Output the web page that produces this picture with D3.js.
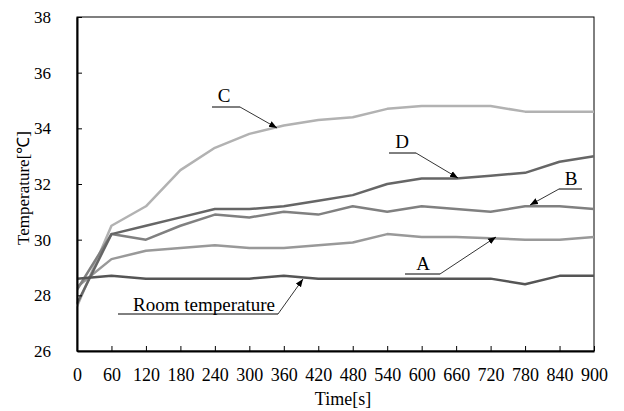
<!DOCTYPE html>
<html lang="en">
<head>
<meta charset="utf-8">
<title>Temperature vs time</title>
<script src="https://d3js.org/d3.v7.js"></script>
<style>
  body { margin: 0; background: #fff; }
  text { font-family: "Liberation Serif", "Times New Roman", serif; }
</style>
</head>
<body>
<script>
var w = 624;
var h = 411;

// data
var times = [0, 60, 120, 180, 240, 300, 360, 420, 480, 540, 600, 660, 720, 780, 840, 900];
var roomTemp = [28.6, 28.7, 28.6, 28.6, 28.6, 28.6, 28.7, 28.6, 28.6, 28.6, 28.6, 28.6, 28.6, 28.4, 28.7, 28.7];
var seriesA = [28.3, 29.3, 29.6, 29.7, 29.8, 29.7, 29.7, 29.8, 29.9, 30.2, 30.1, 30.1, 30.05, 30.0, 30.0, 30.1];
var seriesB = [28.2, 30.2, 30.0, 30.5, 30.9, 30.8, 31.0, 30.9, 31.2, 31.0, 31.2, 31.1, 31.0, 31.2, 31.2, 31.1];
var seriesC = [27.6, 30.5, 31.2, 32.5, 33.3, 33.8, 34.1, 34.3, 34.4, 34.7, 34.8, 34.8, 34.8, 34.6, 34.6, 34.6];
var seriesD = [27.7, 30.2, 30.5, 30.8, 31.1, 31.1, 31.2, 31.4, 31.6, 32.0, 32.2, 32.2, 32.3, 32.4, 32.8, 33.0];
var yTicks = [26, 28, 30, 32, 34, 36, 38];

var series = [
  {name: "C", values: seriesC, color: "#b2b2b2"},
  {name: "A", values: seriesA, color: "#999999"},
  {name: "B", values: seriesB, color: "#808080"},
  {name: "D", values: seriesD, color: "#666666"},
  {name: "Room temperature", values: roomTemp, color: "#555555"}
];

var plotLeft = 77, plotRight = 594, plotTop = 17, plotBottom = 351;

var xScale = d3.scaleLinear().domain([0, 900]).range([plotLeft, plotRight]);
var yScale = d3.scaleLinear().domain([26, 38]).range([plotBottom, plotTop]);

var svg = d3.select("body").append("svg")
  .attr("width", w)
  .attr("height", h);

// thin frame
svg.append("rect")
  .attr("x", plotLeft).attr("y", plotTop)
  .attr("width", plotRight - plotLeft).attr("height", plotBottom - plotTop)
  .attr("fill", "none").attr("stroke", "#000").attr("stroke-width", 1);

var line = d3.line()
  .x(function(d, i) { return xScale(times[i]); })
  .y(function(d) { return yScale(d); });

svg.selectAll("path.series")
  .data(series)
  .enter()
  .append("path")
  .attr("class", "series")
  .attr("d", function(d) { return line(d.values); })
  .attr("fill", "none")
  .attr("stroke", function(d) { return d.color; })
  .attr("stroke-width", 2.5)
  .attr("stroke-linejoin", "round");

// axes
var xAxis = d3.axisBottom(xScale)
  .tickValues(times)
  .tickSizeInner(-5)
  .tickSizeOuter(0)
  .tickPadding(17)
  .tickFormat(d3.format("d"));

var yAxis = d3.axisLeft(yScale)
  .tickValues(yTicks)
  .tickSizeInner(-5)
  .tickSizeOuter(0)
  .tickPadding(26)
  .tickFormat(d3.format("d"));

var gx = svg.append("g")
  .attr("transform", "translate(0," + plotBottom + ")")
  .call(xAxis);

var gy = svg.append("g")
  .attr("transform", "translate(" + plotLeft + ",0)")
  .call(yAxis);

[gx, gy].forEach(function(g) {
  g.select(".domain").attr("stroke-width", 2);
  g.selectAll(".tick line").attr("stroke-width", 1);
  g.selectAll("text").attr("fill", "#000")
    .style("font-family", "'Liberation Serif', serif");
});
gx.selectAll("text").attr("font-size", 18);
gy.selectAll("text").attr("font-size", 17);

// axis titles
svg.append("text")
  .attr("x", 343)
  .attr("y", 405)
  .attr("text-anchor", "middle")
  .attr("font-size", 18)
  .text("Time[s]");

svg.append("text")
  .attr("transform", "translate(29,188) rotate(-90)")
  .attr("text-anchor", "middle")
  .attr("font-size", 17)
  .text("Temperature[\u2103]");

// arrow heads
svg.append("defs").append("marker")
  .attr("id", "arrow")
  .attr("viewBox", "0 0 10 10")
  .attr("refX", 10).attr("refY", 5)
  .attr("markerWidth", 8).attr("markerHeight", 8)
  .attr("markerUnits", "userSpaceOnUse")
  .attr("orient", "auto")
  .append("path")
  .attr("d", "M0,1 L10,5 L0,9 Z")
  .attr("fill", "#000");

// callouts: label, underline start/end, arrow tip (pixel layout)
var callouts = [
  {text: "C", tx: 224, ty: 102, u0: 212, u1: 240, uy: 107, tipX: 277, tipY: 128},
  {text: "D", tx: 402, ty: 148, u0: 389, u1: 416, uy: 153, tipX: 458, tipY: 178},
  {text: "B", tx: 571, ty: 185, u0: 582, u1: 559, uy: 189, tipX: 530, tipY: 205},
  {text: "A", tx: 423, ty: 270, u0: 405, u1: 440, uy: 274, tipX: 496, tipY: 237},
  {text: "Room temperature", tx: 204, ty: 311, u0: 118, u1: 278, uy: 314, tipX: 303, tipY: 279}
];

callouts.forEach(function(c) {
  svg.append("line")
    .attr("x1", c.u0).attr("y1", c.uy)
    .attr("x2", c.u1).attr("y2", c.uy)
    .attr("stroke", "#000").attr("stroke-width", 1);
  svg.append("line")
    .attr("x1", c.u1).attr("y1", c.uy)
    .attr("x2", c.tipX).attr("y2", c.tipY)
    .attr("stroke", "#000").attr("stroke-width", 0.8)
    .attr("marker-end", "url(#arrow)");
  svg.append("text")
    .attr("x", c.tx).attr("y", c.ty)
    .attr("text-anchor", "middle")
    .attr("font-size", 19)
    .text(c.text);
});
</script>
</body>
</html>
